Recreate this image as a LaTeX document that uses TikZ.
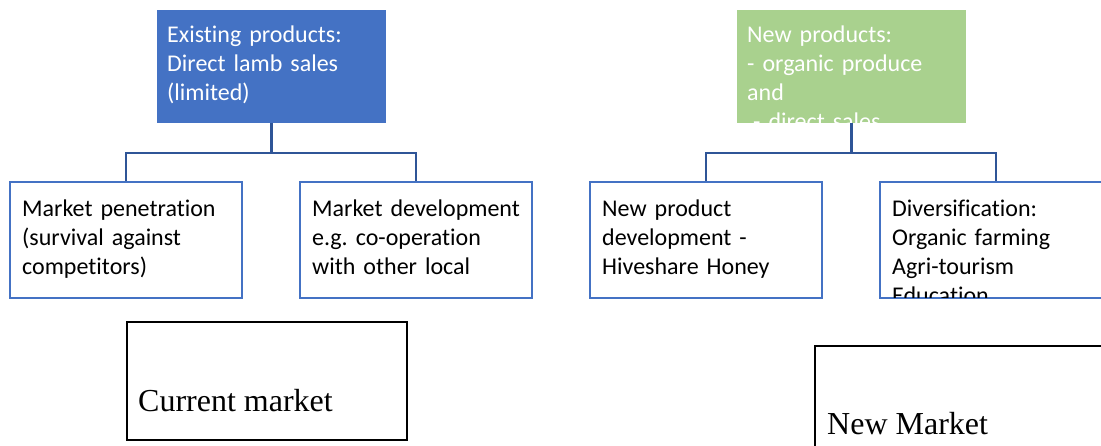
\documentclass[tikz,border=0pt]{standalone}
\usepackage{fontspec}
\newfontfamily\calfont[Ligatures={NoCommon,NoRequired,NoContextual}]{Carlito}
\newfontfamily\tmsfont{Liberation Serif}
\definecolor{accblue}{HTML}{4472C4}
\definecolor{accgreen}{HTML}{A9D18E}
\definecolor{linkblue}{HTML}{2F5597}
\tikzset{
  topbox/.style={draw=none, minimum width=229, minimum height=113, inner sep=0, outer sep=0},
  childbox/.style={draw=accblue, line width=2pt, minimum width=232, minimum height=116, inner sep=0, outer sep=0},
  mktbox/.style={draw=black, line width=1.6pt, inner sep=0, outer sep=0},
  caltext/.style={font=\calfont\fontsize{24}{29}\selectfont\frenchspacing, inner sep=0, text width=225, align=left, anchor=north west},
  tmstext/.style={font=\tmsfont\fontsize{32}{38}\selectfont, inner sep=0, anchor=base west},
  link/.style={draw=linkblue, line width=2.5pt}
}
\begin{document}
\begin{tikzpicture}[x=1pt,y=-1pt]
\useasboundingbox (0,0) rectangle (1101,446);
\clip (0,0) rectangle (1101,446);
% top boxes
\node[topbox, fill=accblue] (pB) at (271.5,66.5) {};
\node[topbox, fill=accgreen] (pG) at (851.5,66.5) {};
% child boxes
\node[childbox] (c1) at (126,240) {};
\node[childbox] (c2) at (416,240) {};
\node[childbox] (c3) at (706,240) {};
\node[childbox] (c4) at (996,240) {};
% connectors
\coordinate (jB) at (271.5,153);
\coordinate (jG) at (851.5,153);
\draw[link] (pB.south) -- (jB);
\draw[link] (jB) -| (c1.north);
\draw[link] (jB) -| (c2.north);
\draw[link] (pG.south) -- (jG);
\draw[link] (jG) -| (c3.north);
\draw[link] (jG) -| (c4.north);
% redraw child boxes on top of connector ends
\node[childbox] at (c1) {};
\node[childbox] at (c2) {};
\node[childbox] at (c3) {};
\node[childbox] at (c4) {};
% texts in top boxes
\begin{scope}
\clip (pB.south west) rectangle (pB.north east);
\node[caltext, text=white] (tB) at (167,21.7) {\strut Existing products:\\Direct lamb sales\\(limited)};
\end{scope}
\begin{scope}
\clip (pG.south west) rectangle (pG.north east);
\node[caltext, text=white] (tG) at (747,21.7) {\strut New products:\\- organic produce\\and\\\hspace*{6pt}- direct sales};
\end{scope}
% texts in child boxes
\begin{scope}
\clip (c1.south west) rectangle (c1.north east);
\node[caltext] (t1) at (22,195.7) {\strut Market penetration\\(survival against\\competitors)};
\end{scope}
\begin{scope}
\clip (c2.south west) rectangle (c2.north east);
\node[caltext] (t2) at (312,195.7) {\strut Market development\\e.g. co-operation\\with other local};
\end{scope}
\begin{scope}
\clip (c3.south west) rectangle (c3.north east);
\node[caltext] (t3) at (602,195.7) {\strut New product\\development -\\Hiveshare Honey};
\end{scope}
\begin{scope}
\clip (c4.south west) rectangle (c4.north east);
\node[caltext] (t4) at (892,195.7) {\strut Diversification:\\Organic farming\\Agri-tourism\\Education};
\end{scope}
% market boxes
\node[mktbox, minimum width=280, minimum height=118] (mC) at (267,381) {};
\node[tmstext] (tC) at (138,411) {Current market};
\node[mktbox, minimum width=320, minimum height=140] (mN) at (975,416) {};
\node[tmstext] (tN) at (827,435) {New Market};
\end{tikzpicture}
\end{document}
